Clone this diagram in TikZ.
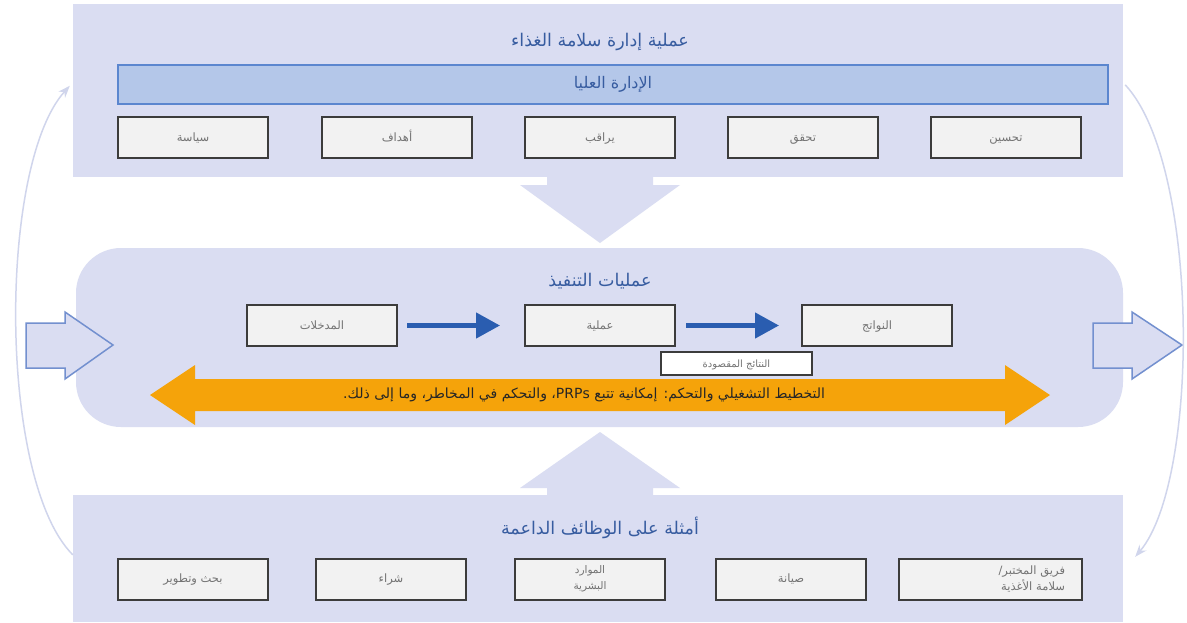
\documentclass[tikz,border=0pt]{standalone}
\usepackage{fontspec}
\setmainfont{DejaVu Sans}
\newfontfamily\arabicfont[Script=Arabic]{DejaVu Sans}
\TeXXeTstate=1
\usetikzlibrary{arrows.meta}
\definecolor{panelc}{RGB}{218,221,242}
\definecolor{barfill}{RGB}{180,199,233}
\definecolor{barline}{RGB}{91,134,207}
\definecolor{boxfill}{RGB}{242,242,242}
\definecolor{boxline}{RGB}{60,60,60}
\definecolor{boxtext}{RGB}{115,115,115}
\definecolor{titleblue}{RGB}{55,92,160}
\definecolor{flowblue}{RGB}{42,93,176}
\definecolor{orangec}{RGB}{245,163,10}
\definecolor{hollowline}{RGB}{115,144,207}
\definecolor{arcc}{RGB}{208,213,236}
\newcommand{\artxt}[1]{{\arabicfont\beginR #1\endR}}
\begin{document}
\begin{tikzpicture}[x=1pt,y=-1pt,
  panel/.style={draw=none,fill=panelc,inner sep=0pt,minimum width=1050pt},
  ptitle/.style={text=titleblue,font=\fontsize{17.5}{21}\selectfont,text height=2ex,text depth=0.6ex},
  gbox/.style={draw=boxline,line width=2pt,fill=boxfill,minimum width=150pt,minimum height=41pt,inner sep=2pt,text=boxtext,font=\fontsize{11.5}{15}\selectfont,align=center},
  ctr/.style={text height=1.9ex,text depth=0.5ex},
  flow/.style={draw=flowblue,line width=4.5pt,-{Triangle[length=24pt,width=25pt]}},
  hollow/.style={fill=panelc,draw=hollowline,line width=1.5pt,line join=miter},
  arc/.style={draw=arcc,line width=1.5pt,-{Stealth[length=12pt,width=9pt]}}]
\useasboundingbox (0,0) rectangle (1187,622);
\fill[white] (0,0) rectangle (1187,622);

% panels
\node[panel,minimum height=173pt] (top) at (598,90.5) {};
\node[panel,minimum height=179pt,rounded corners=45pt,minimum width=1047pt] (mid) at (599.5,337.5) {};
\node[panel,minimum height=127pt] (bot) at (598,558.5) {};

% big connecting block arrows
\fill[panelc] (547,176) -- (653,176) -- (653,185) -- (680,185) -- (600,243) -- (520,185) -- (547,185) -- cycle;
\fill[panelc] (547,496) -- (547,488) -- (520,488) -- (600,432) -- (680,488) -- (653,488) -- (653,496) -- cycle;

% side hollow arrows
\draw[hollow] (26,323) -- (65,323) -- (65,312) -- (113,345) -- (65,379) -- (65,368) -- (26,368) -- cycle;
\draw[hollow] (1093,323) -- (1132,323) -- (1132,312) -- (1182,345) -- (1132,379) -- (1132,368) -- (1093,368) -- cycle;

% arcs
\coordinate (la) at ([yshift=-60pt]bot.north west);
\coordinate (lb) at ([yshift=-82pt,xshift=-3pt]top.north west);
\coordinate (ra) at ([yshift=-81pt,xshift=2pt]top.north east);
\coordinate (rb) at ([yshift=-62pt,xshift=12pt]bot.north east);
\draw[arc] (la) .. controls (-2,480) and (-2,165) .. (lb);
\draw[arc] (ra) .. controls (1200,165) and (1200,480) .. (rb);

% top panel
\node[ptitle] (ttitle) at (600,43) {\artxt{عملية إدارة سلامة الغذاء}};
\node[draw=barline,line width=1.5pt,fill=barfill,minimum width=990pt,minimum height=39pt,text=titleblue,font=\fontsize{16}{19}\selectfont,ctr] (bar) at (613,84.5) {\artxt{الإدارة العليا}};
\node[gbox,ctr] (t1) at (193,137.5) {\artxt{سياسة}};
\node[gbox,ctr] (t2) at (397,137.5) {\artxt{أهداف}};
\node[gbox,ctr] (t3) at (600,137.5) {\artxt{يراقب}};
\node[gbox,ctr] (t4) at (803,137.5) {\artxt{تحقق}};
\node[gbox,ctr] (t5) at (1006,137.5) {\artxt{تحسين}};

% middle panel
\node[ptitle] (mtitle) at (600,283) {\artxt{عمليات التنفيذ}};
\node[gbox,ctr] (m1) at (322,325.5) {\artxt{المدخلات}};
\node[gbox,ctr] (m2) at (600,325.5) {\artxt{عملية}};
\node[gbox,ctr] (m3) at (877,325.5) {\artxt{النواتج}};
\draw[flow] ([xshift=9pt]m1.east) -- ([xshift=-24pt]m2.west);
\draw[flow] ([xshift=10pt]m2.east) -- ([xshift=-22pt]m3.west);
\node[draw=boxline,line width=1.2pt,fill=white,minimum width=151pt,minimum height=23pt,inner sep=1pt,text=boxtext,font=\fontsize{10}{12}\selectfont,ctr] (intended) at (736.5,363.5) {\artxt{النتائج المقصودة}};

% orange double arrow
\fill[orangec] (150,395) -- (195,365) -- (195,379) -- (1005,379) -- (1005,365) -- (1050,395) -- (1005,425) -- (1005,411) -- (195,411) -- (195,425) -- cycle;
\node[text=black!85,font=\fontsize{14}{17}\selectfont,ctr] (plan) at (584,395) {\artxt{التخطيط التشغيلي والتحكم: إمكانية تتبع \beginL PRPs\endL، والتحكم في المخاطر، وما إلى ذلك.}};

% bottom panel
\node[ptitle] (btitle) at (600,531) {\artxt{أمثلة على الوظائف الداعمة}};
\node[gbox,ctr] (b1) at (193,579) {\artxt{بحث وتطوير}};
\node[gbox,ctr] (b2) at (391,579) {\artxt{شراء}};
\node[gbox,font=\fontsize{10.5}{16}\selectfont] (b3) at (590,579) {\artxt{الموارد}\\\artxt{البشرية}};
\node[gbox,ctr] (b4) at (791,579) {\artxt{صيانة}};
\node[gbox,minimum width=183pt,align=right,text width=150pt,font=\fontsize{11.5}{16}\selectfont] (b5) at (990,579) {\artxt{فريق المختبر/}\\\artxt{سلامة الأغذية}};
\end{tikzpicture}
\end{document}
